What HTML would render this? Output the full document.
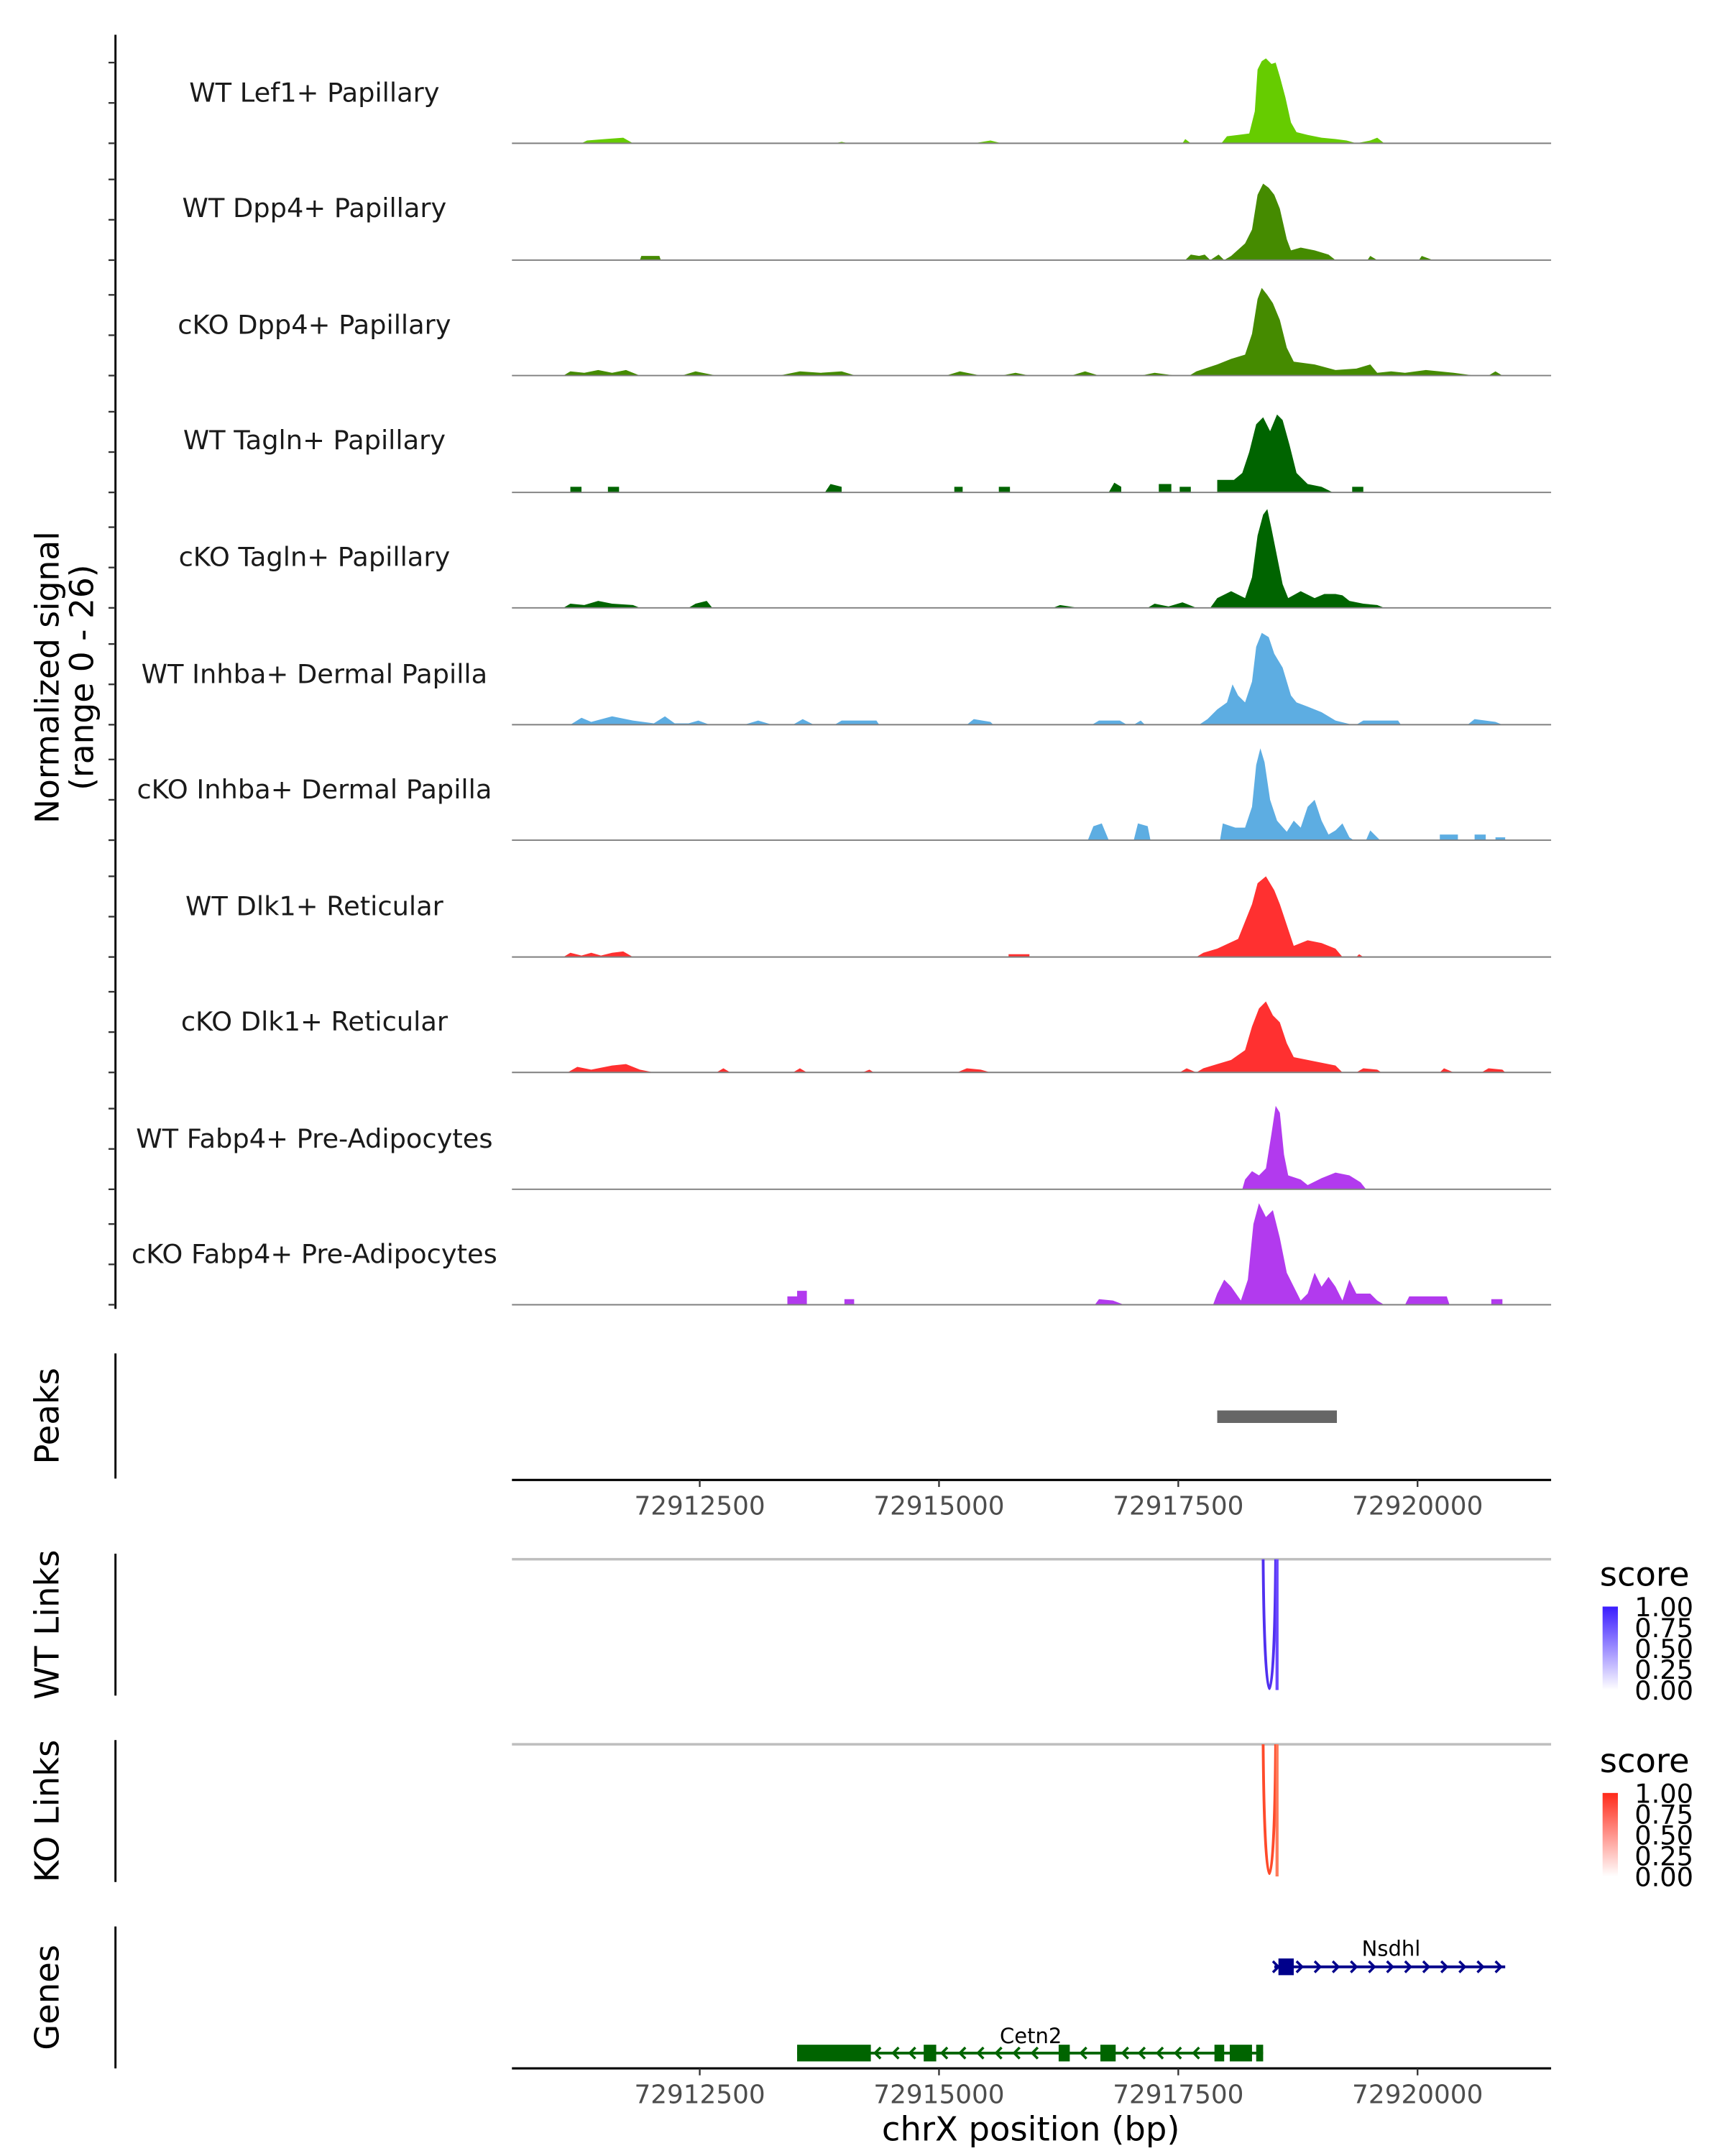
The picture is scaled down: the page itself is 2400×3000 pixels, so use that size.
<!DOCTYPE html>
<html><head><meta charset="utf-8"><style>html,body{margin:0;padding:0;background:#fff}svg{display:block}</style></head>
<body>
<svg width="2400" height="3000" viewBox="0 0 1240 1550" xmlns="http://www.w3.org/2000/svg" font-family="'DejaVu Sans','Liberation Sans',sans-serif">
<defs>
<linearGradient id="gb" x1="0" y1="0" x2="0" y2="1"><stop offset="0" stop-color="#3a1cff"/><stop offset="1" stop-color="#ffffff"/></linearGradient>
<linearGradient id="gr" x1="0" y1="0" x2="0" y2="1"><stop offset="0" stop-color="#ff2a1a"/><stop offset="1" stop-color="#ffffff"/></linearGradient>
</defs>
<rect width="1240" height="1550" fill="#fff"/>
<line x1="83" y1="25" x2="83" y2="941" stroke="#000" stroke-width="1.5"/>
<g stroke="#333" stroke-width="1.2">
<line x1="78" x2="83" y1="45" y2="45"/><line x1="78" x2="83" y1="74" y2="74"/><line x1="78" x2="83" y1="103" y2="103"/>
<line x1="78" x2="83" y1="129" y2="129"/><line x1="78" x2="83" y1="158" y2="158"/><line x1="78" x2="83" y1="187" y2="187"/>
<line x1="78" x2="83" y1="212" y2="212"/><line x1="78" x2="83" y1="241" y2="241"/><line x1="78" x2="83" y1="270" y2="270"/>
<line x1="78" x2="83" y1="296" y2="296"/><line x1="78" x2="83" y1="325" y2="325"/><line x1="78" x2="83" y1="354" y2="354"/>
<line x1="78" x2="83" y1="379" y2="379"/><line x1="78" x2="83" y1="408" y2="408"/><line x1="78" x2="83" y1="437" y2="437"/>
<line x1="78" x2="83" y1="463" y2="463"/><line x1="78" x2="83" y1="492" y2="492"/><line x1="78" x2="83" y1="521" y2="521"/>
<line x1="78" x2="83" y1="546" y2="546"/><line x1="78" x2="83" y1="575" y2="575"/><line x1="78" x2="83" y1="604" y2="604"/>
<line x1="78" x2="83" y1="630" y2="630"/><line x1="78" x2="83" y1="659" y2="659"/><line x1="78" x2="83" y1="688" y2="688"/>
<line x1="78" x2="83" y1="713" y2="713"/><line x1="78" x2="83" y1="742" y2="742"/><line x1="78" x2="83" y1="771" y2="771"/>
<line x1="78" x2="83" y1="797" y2="797"/><line x1="78" x2="83" y1="826" y2="826"/><line x1="78" x2="83" y1="855" y2="855"/>
<line x1="78" x2="83" y1="880" y2="880"/><line x1="78" x2="83" y1="909" y2="909"/><line x1="78" x2="83" y1="938" y2="938"/>
</g>
<text transform="translate(42,487) rotate(-90)" text-anchor="middle" font-size="23.5">Normalized signal</text>
<text transform="translate(67,487) rotate(-90)" text-anchor="middle" font-size="23.5">(range 0 - 26)</text>
<g font-size="19" text-anchor="middle" fill="#1a1a1a">
<text x="226" y="73">WT Lef1+ Papillary</text>
<text x="226" y="156">WT Dpp4+ Papillary</text>
<text x="226" y="240">cKO Dpp4+ Papillary</text>
<text x="226" y="323">WT Tagln+ Papillary</text>
<text x="226" y="407">cKO Tagln+ Papillary</text>
<text x="226" y="491">WT Inhba+ Dermal Papilla</text>
<text x="226" y="574">cKO Inhba+ Dermal Papilla</text>
<text x="226" y="658">WT Dlk1+ Reticular</text>
<text x="226" y="741">cKO Dlk1+ Reticular</text>
<text x="226" y="825">WT Fabp4+ Pre-Adipocytes</text>
<text x="226" y="908">cKO Fabp4+ Pre-Adipocytes</text>
</g>
<path fill="#66CC00" d="M368,103 H418 L422,101 L435,100 L448,99 L455,103 H600 L605,102 L610,103 H700 L712,101 L720,103 H850 L852,100 L856,103 H878 L882,98 L890,97 L898,96 L902,80 L904,50 L907,44 L910,42 L914,46 L917,45 L920,55 L924,70 L928,88 L932,95 L940,97 L950,99 L960,100 L968,101 L975,103 L985,101 L990,99 L995,103 Z"/>
<path fill="#458B00" d="M368,187 H460 L461,184 L474,184 L475,187 H852 L856,183 L862,184 L866,183 L870,187 L876,183 L880,187 L885,184 L895,175 L900,165 L904,140 L908,132 L912,135 L916,140 L920,150 L925,172 L928,180 L935,178 L945,180 L955,183 L960,187 L983,187 L985,184 L990,187 L1020,187 L1022,184 L1030,187 Z"/>
<path fill="#458B00" d="M368,270 H405 L410,267 L420,268 L430,266 L440,268 L450,266 L460,270 H490 L500,267 L515,270 H560 L575,267 L590,268 L605,267 L615,270 H680 L690,267 L705,270 H720 L730,268 L740,270 H770 L780,267 L790,270 H820 L830,268 L845,270 H855 L860,267 L875,262 L885,258 L895,255 L900,240 L904,215 L907,207 L911,212 L915,218 L920,230 L925,250 L930,260 L945,262 L960,266 L975,265 L985,262 L990,268 L1000,267 L1010,268 L1025,266 L1045,268 L1060,270 H1070 L1075,267 L1080,270 Z"/>
<path fill="#006400" d="M368,354 H410 V350 H418 V354 H437 V350 H445 V354 H593 L597,348 L605,350 V354 H686 V350 H692 V354 H718 V350 H726 V354 H797 L801,347 L806,350 V354 H833 V348 H842 V354 H848 V350 H856 V354 H875 V345 H887 L893,340 L898,325 L903,305 L908,300 L913,310 L918,298 L922,302 L927,320 L932,340 L940,348 L950,350 L958,354 H972 V350 H980 V354 Z"/>
<path fill="#006400" d="M368,437 H405 L410,434 L420,435 L430,432 L440,434 L455,435 L460,437 H495 L500,434 L508,432 L512,437 H757 L762,435 L775,437 H825 L830,434 L840,436 L850,433 L860,437 H870 L875,430 L885,425 L895,430 L900,415 L904,385 L908,370 L911,366 L914,380 L918,400 L922,420 L926,430 L935,425 L945,430 L952,427 L960,427 L965,428 L970,432 L980,434 L990,435 L995,437 Z"/>
<path fill="#5DADE2" d="M368,521 H410 L418,516 L425,519 L440,515 L455,518 L470,520 L478,515 L485,520 H495 L502,518 L510,521 H535 L545,518 L555,521 H570 L577,517 L585,521 H600 L605,518 L630,518 L632,521 H695 L700,517 L712,519 L714,521 H785 L790,518 L805,518 L810,521 H815 L820,518 L823,521 H862 L868,517 L875,510 L882,505 L886,492 L890,500 L895,505 L900,490 L903,465 L907,455 L912,458 L916,470 L922,480 L928,500 L932,505 L940,508 L950,512 L960,518 L972,521 H975 L980,518 L1005,518 L1007,521 H1055 L1060,517 L1075,519 L1080,521 Z"/>
<path fill="#5DADE2" d="M368,604 H782 L786,594 L792,592 L797,604 H815 L818,592 L825,594 L827,604 H877 L879,592 L888,595 L895,595 L900,580 L903,550 L906,538 L909,548 L913,575 L918,590 L925,598 L930,590 L935,595 L940,580 L945,575 L950,590 L955,600 L960,597 L965,592 L970,602 L973,604 H982 L985,597 L992,604 H1035 V600 H1048 V604 H1060 V600 H1068 V604 H1075 V602 H1082 V604 Z"/>
<path fill="#FF3030" d="M368,688 H405 L410,685 L418,687 L425,685 L432,687 L440,685 L448,684 L455,688 H725 V686 H740 V688 H860 L865,685 L875,682 L890,675 L900,650 L904,635 L910,630 L916,640 L920,650 L925,665 L930,680 L940,676 L950,678 L960,682 L965,688 H975 L977,686 L980,688 Z"/>
<path fill="#FF3030" d="M368,771 H408 L415,767 L425,769 L440,766 L450,765 L460,769 L470,771 H515 L520,768 L525,771 H570 L575,768 L580,771 H620 L625,769 L628,771 H688 L695,768 L705,769 L712,771 H848 L853,768 L860,771 L865,768 L875,765 L885,762 L895,755 L900,738 L905,725 L910,720 L915,730 L920,735 L925,750 L930,760 L940,762 L950,764 L960,766 L965,771 H975 L980,768 L990,769 L993,771 H1035 L1038,768 L1045,771 H1065 L1070,768 L1080,769 L1082,771 Z"/>
<path fill="#B23AEE" d="M368,855 H893 L895,848 L900,842 L905,845 L910,840 L914,815 L917,795 L920,800 L923,830 L926,845 L935,848 L940,852 L950,847 L960,843 L970,845 L978,850 L982,855 Z"/>
<path fill="#B23AEE" d="M368,938 H566 V932 H573 V928 H580 V938 H607 V934 H614 V938 H787 L790,934 L800,935 L808,938 H872 L875,930 L880,920 L885,925 L892,935 L897,920 L901,880 L905,865 L910,875 L915,870 L920,890 L925,915 L930,925 L935,935 L940,930 L945,915 L950,925 L955,918 L960,925 L965,935 L970,920 L975,930 L985,930 L990,935 L995,938 H1010 L1013,932 L1040,932 L1042,938 H1072 V934 H1080 V938 Z"/>
<g stroke="#7f7f7f" stroke-width="1">
<line x1="368" x2="1115" y1="103" y2="103"/><line x1="368" x2="1115" y1="187" y2="187"/><line x1="368" x2="1115" y1="270" y2="270"/>
<line x1="368" x2="1115" y1="354" y2="354"/><line x1="368" x2="1115" y1="437" y2="437"/><line x1="368" x2="1115" y1="521" y2="521"/>
<line x1="368" x2="1115" y1="604" y2="604"/><line x1="368" x2="1115" y1="688" y2="688"/><line x1="368" x2="1115" y1="771" y2="771"/>
<line x1="368" x2="1115" y1="855" y2="855"/><line x1="368" x2="1115" y1="938" y2="938"/>
</g>
<line x1="83" y1="973" x2="83" y2="1063" stroke="#000" stroke-width="1.5"/>
<text transform="translate(42,1018) rotate(-90)" text-anchor="middle" font-size="24">Peaks</text>
<rect x="875" y="1014" width="86" height="9" fill="#666"/>
<line x1="368" y1="1064" x2="1115" y2="1064" stroke="#000" stroke-width="1.6"/>
<g stroke="#333" stroke-width="1.2"><line x1="503" x2="503" y1="1064" y2="1069"/><line x1="675" x2="675" y1="1064" y2="1069"/><line x1="847" x2="847" y1="1064" y2="1069"/><line x1="1019" x2="1019" y1="1064" y2="1069"/></g>
<g font-size="18.5" fill="#4d4d4d" text-anchor="middle"><text x="503" y="1089">72912500</text><text x="675" y="1089">72915000</text><text x="847" y="1089">72917500</text><text x="1019" y="1089">72920000</text></g>
<line x1="83" y1="1117" x2="83" y2="1219" stroke="#000" stroke-width="1.5"/>
<text transform="translate(42,1168) rotate(-90)" text-anchor="middle" font-size="24">WT Links</text>
<line x1="368" y1="1121" x2="1115" y2="1121" stroke="#bebebe" stroke-width="1.8"/>
<path d="M908,1121 C909,1245 916,1245 917,1121" fill="none" stroke="#5030f0" stroke-width="2"/>
<line x1="918" y1="1121" x2="918" y2="1215" stroke="#6a48ff" stroke-width="2.2"/>
<text x="1150" y="1140" font-size="24">score</text>
<rect x="1152" y="1155" width="11" height="60" fill="url(#gb)"/>
<g font-size="19"><text x="1175" y="1162">1.00</text><text x="1175" y="1177">0.75</text><text x="1175" y="1192">0.50</text><text x="1175" y="1207">0.25</text><text x="1175" y="1222">0.00</text></g>
<line x1="83" y1="1251" x2="83" y2="1353" stroke="#000" stroke-width="1.5"/>
<text transform="translate(42,1302) rotate(-90)" text-anchor="middle" font-size="24">KO Links</text>
<line x1="368" y1="1254" x2="1115" y2="1254" stroke="#bebebe" stroke-width="1.8"/>
<path d="M908,1254 C909,1378 916,1378 917,1254" fill="none" stroke="#ff4a2a" stroke-width="2"/>
<line x1="918" y1="1254" x2="918" y2="1349" stroke="#ff7a5a" stroke-width="2.2"/>
<text x="1150" y="1274" font-size="24">score</text>
<rect x="1152" y="1289" width="11" height="60" fill="url(#gr)"/>
<g font-size="19"><text x="1175" y="1296">1.00</text><text x="1175" y="1311">0.75</text><text x="1175" y="1326">0.50</text><text x="1175" y="1341">0.25</text><text x="1175" y="1356">0.00</text></g>
<line x1="83" y1="1385" x2="83" y2="1487" stroke="#000" stroke-width="1.5"/>
<text transform="translate(42,1436) rotate(-90)" text-anchor="middle" font-size="24">Genes</text>
<line x1="916" y1="1414" x2="1082" y2="1414" stroke="#00008B" stroke-width="2"/>
<rect x="919" y="1408" width="11" height="12" fill="#00008B"/>
<path d="M915,1410 l4,4 l-4,4 M932,1410 l4,4 l-4,4 M945,1410 l4,4 l-4,4 M958,1410 l4,4 l-4,4 M971,1410 l4,4 l-4,4 M984,1410 l4,4 l-4,4 M997,1410 l4,4 l-4,4 M1010,1410 l4,4 l-4,4 M1023,1410 l4,4 l-4,4 M1036,1410 l4,4 l-4,4 M1049,1410 l4,4 l-4,4 M1062,1410 l4,4 l-4,4 M1075,1410 l4,4 l-4,4" fill="none" stroke="#00008B" stroke-width="1.8"/>
<text x="1000" y="1406" font-size="15" text-anchor="middle">Nsdhl</text>
<line x1="573" y1="1476" x2="908" y2="1476" stroke="#006400" stroke-width="2"/>
<g fill="#006400"><rect x="573" y="1470" width="53" height="12"/><rect x="664" y="1470" width="9" height="12"/><rect x="761" y="1470" width="8" height="12"/><rect x="791" y="1470" width="11" height="12"/><rect x="873" y="1470" width="7" height="12"/><rect x="884" y="1470" width="16" height="12"/><rect x="903" y="1470" width="5" height="12"/></g>
<path d="M633,1472 l-4,4 l4,4 M646,1472 l-4,4 l4,4 M658,1472 l-4,4 l4,4 M681,1472 l-4,4 l4,4 M694,1472 l-4,4 l4,4 M707,1472 l-4,4 l4,4 M720,1472 l-4,4 l4,4 M733,1472 l-4,4 l4,4 M746,1472 l-4,4 l4,4 M781,1472 l-4,4 l4,4 M811,1472 l-4,4 l4,4 M823,1472 l-4,4 l4,4 M836,1472 l-4,4 l4,4 M849,1472 l-4,4 l4,4 M862,1472 l-4,4 l4,4" fill="none" stroke="#006400" stroke-width="1.8"/>
<text x="741" y="1469" font-size="15" text-anchor="middle">Cetn2</text>
<line x1="368" y1="1487" x2="1115" y2="1487" stroke="#000" stroke-width="1.6"/>
<g stroke="#333" stroke-width="1.2"><line x1="503" x2="503" y1="1487" y2="1492"/><line x1="675" x2="675" y1="1487" y2="1492"/><line x1="847" x2="847" y1="1487" y2="1492"/><line x1="1019" x2="1019" y1="1487" y2="1492"/></g>
<g font-size="18.5" fill="#4d4d4d" text-anchor="middle"><text x="503" y="1512">72912500</text><text x="675" y="1512">72915000</text><text x="847" y="1512">72917500</text><text x="1019" y="1512">72920000</text></g>
<text x="741" y="1539" font-size="24" text-anchor="middle">chrX position (bp)</text>
</svg>
</body></html>
